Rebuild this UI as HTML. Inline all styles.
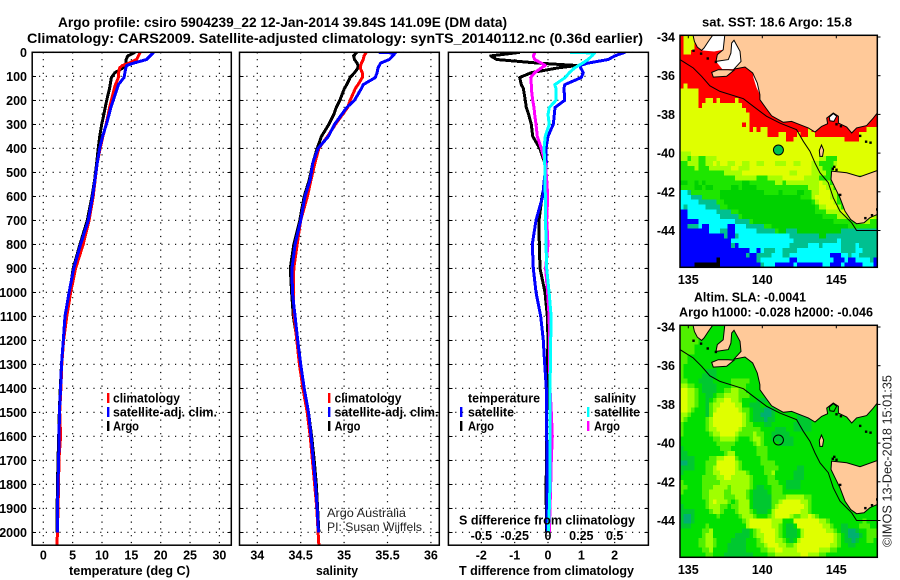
<!DOCTYPE html>
<html><head><meta charset="utf-8"><title>Argo profile</title>
<style>
html,body{margin:0;padding:0;background:#fff}
svg{display:block}
text{font-family:"Liberation Sans",sans-serif;fill:#000}
.b{font-weight:bold;font-size:12.5px}
.t{font-weight:bold;font-size:14px}
.n{font-weight:normal;font-size:12px;fill:#222}
</style></head>
<body>
<svg id="fig" xmlns="http://www.w3.org/2000/svg" width="900" height="580" viewBox="0 0 900 580">
<defs>
<clipPath id="cp1"><rect x="32" y="52" width="199.5" height="493.5"/></clipPath>
<clipPath id="cp2"><rect x="239.5" y="52" width="199.5" height="493.5"/></clipPath>
<clipPath id="cp3"><rect x="448.5" y="52" width="200" height="493.5"/></clipPath>
<clipPath id="cm1"><rect x="680" y="35.3" width="197.3" height="232"/></clipPath>
<clipPath id="cm2"><rect x="680" y="325.3" width="197.3" height="232"/></clipPath>
</defs>
<text class="t" x="58" y="27" textLength="449" lengthAdjust="spacingAndGlyphs">Argo profile: csiro 5904239_22 12-Jan-2014 39.84S 141.09E (DM data)</text>
<text class="t" x="27" y="43" textLength="616" lengthAdjust="spacingAndGlyphs">Climatology: CARS2009. Satellite-adjusted climatology: synTS_20140112.nc (0.36d earlier)</text>
<g id="charts"></g>
<g id="maps"></g>

<text class="b" x="69" y="575" textLength="121" lengthAdjust="spacingAndGlyphs">temperature (deg C)</text>
<text class="b" x="316" y="575" textLength="42" lengthAdjust="spacingAndGlyphs">salinity</text>
<text class="b" x="459" y="575" textLength="175" lengthAdjust="spacingAndGlyphs">T difference from climatology</text>
<text class="b" x="459" y="524.5" textLength="176" lengthAdjust="spacingAndGlyphs">S difference from climatology</text>

<g>
<rect x="107" y="393" width="2.4" height="10" fill="#f00"/>
<text class="b" x="113" y="402.5" textLength="67" lengthAdjust="spacingAndGlyphs">climatology</text>
<rect x="107" y="407" width="2.4" height="10" fill="#00f"/>
<text class="b" x="113" y="416.5" textLength="104" lengthAdjust="spacingAndGlyphs">satellite-adj. clim.</text>
<rect x="107" y="421" width="2.4" height="10" fill="#000"/>
<text class="b" x="113" y="430.5" textLength="26" lengthAdjust="spacingAndGlyphs">Argo</text>
</g>
<g>
<rect x="328" y="393" width="2.4" height="10" fill="#f00"/>
<text class="b" x="334.5" y="402.5" textLength="67" lengthAdjust="spacingAndGlyphs">climatology</text>
<rect x="328" y="407" width="2.4" height="10" fill="#00f"/>
<text class="b" x="334.5" y="416.5" textLength="104" lengthAdjust="spacingAndGlyphs">satellite-adj. clim.</text>
<rect x="328" y="421" width="2.4" height="10" fill="#000"/>
<text class="b" x="334.5" y="430.5" textLength="26" lengthAdjust="spacingAndGlyphs">Argo</text>
<text class="n" x="327" y="517" textLength="79" lengthAdjust="spacingAndGlyphs">Argo Australia</text>
<text class="n" x="327" y="531" textLength="95" lengthAdjust="spacingAndGlyphs">PI: Susan Wijffels</text>
</g>
<g>
<text class="b" x="468" y="402.5" textLength="72" lengthAdjust="spacingAndGlyphs">temperature</text>
<rect x="460" y="407" width="2.4" height="10" fill="#00f"/>
<text class="b" x="468" y="416.5" textLength="46" lengthAdjust="spacingAndGlyphs">satellite</text>
<rect x="460" y="421" width="2.4" height="10" fill="#000"/>
<text class="b" x="468" y="430.5" textLength="26" lengthAdjust="spacingAndGlyphs">Argo</text>
<text class="b" x="594" y="402.5" textLength="42" lengthAdjust="spacingAndGlyphs">salinity</text>
<rect x="587" y="407" width="2.4" height="10" fill="#0ff"/>
<text class="b" x="594" y="416.5" textLength="46" lengthAdjust="spacingAndGlyphs">satellite</text>
<rect x="587" y="421" width="2.4" height="10" fill="#f0f"/>
<text class="b" x="594" y="430.5" textLength="26" lengthAdjust="spacingAndGlyphs">Argo</text>
</g>

<text class="b" x="702" y="26.5" textLength="150" lengthAdjust="spacingAndGlyphs">sat. SST: 18.6 Argo: 15.8</text>
<text class="b" x="694" y="301.5" textLength="112" lengthAdjust="spacingAndGlyphs">Altim. SLA: -0.0041</text>
<text class="b" x="679" y="316.5" textLength="194" lengthAdjust="spacingAndGlyphs">Argo h1000: -0.028 h2000: -0.046</text>
<text class="n" style="font-size:13px" transform="translate(891.5,547) rotate(-90)" textLength="172" lengthAdjust="spacingAndGlyphs">©IMOS 13-Dec-2018 15:01:35</text>
</svg>
<script>
// ---- profile data ----
const depthLevels=[0,3,15,30,45,55,65,85,105,135,150,200,230,260,300,350,400,460,530,600,700,800,900,1000,1100,1200,1300,1400,1500,1600,1700,1800,1900,2000,2055];
const tempArgo=[15.6,15.4,14.4,14.1,14.1,13.9,13.6,12.2,11.6,11.4,11.3,10.8,10.55,10.3,9.95,9.6,9.35,9.1,8.75,8.3,7.5,6.25,5.1,4.5,3.8,3.4,3.1,2.9,2.72,2.62,2.5,2.42,2.35,2.33,null];
const tempClim=[16.5,16.45,16.2,15.9,14.6,13.5,13.0,12.85,12.8,12.3,12.1,11.6,11.3,11.05,10.7,10.15,9.7,9.2,8.85,8.5,7.8,6.8,5.5,4.66,4.0,3.45,3.15,3.0,2.8,2.95,2.65,2.6,2.5,2.4,2.33];
const tempSat=[18.75,18.7,18.2,17.6,15.4,14.2,14.05,13.9,13.75,12.8,12.6,11.9,11.5,11.2,10.75,10.1,9.6,9.2,8.8,8.4,7.67,6.36,5.2,4.4,3.7,3.4,3.1,2.95,2.75,2.7,2.6,2.5,2.42,2.4,null];
const salArgo=[35.146,35.14,35.11,35.12,35.15,35.16,35.16,35.12,35.07,35.03,35.005,34.95,34.91,34.88,34.825,34.74,34.69,34.64,34.6,34.54,34.49,34.42,34.38,34.395,34.415,34.46,34.5,34.535,34.59,34.625,34.655,34.68,34.695,34.71,null];
const salClim=[35.25,35.25,35.23,35.22,35.2,35.19,35.185,35.21,35.21,35.16,35.13,35.07,35.04,34.98,34.9,34.81,34.71,34.665,34.62,34.577,34.5,34.46,34.42,34.415,34.425,34.455,34.485,34.525,34.575,34.61,34.635,34.66,34.685,34.7,34.71];
const salSat=[35.4,35.59,35.56,35.52,35.42,35.405,35.39,35.38,35.36,35.22,35.2,35.12,35.03,34.97,34.89,34.82,34.7,34.64,34.61,34.55,34.5,34.435,34.4,34.404,34.435,34.465,34.5,34.54,34.59,34.62,34.645,34.67,34.69,34.705,null];
const diffTArgo=[-0.84,-1.0,-1.72,-1.54,-0.3,0.86,0.3,-0.5,-0.85,-0.8,-0.74,-0.68,-0.65,-0.58,-0.5,-0.46,-0.25,-0.1,-0.07,-0.18,-0.27,-0.26,-0.24,-0.09,-0.02,0,-0.02,-0.02,-0.04,-0.04,-0.04,-0.06,-0.05,-0.04,null];
const diffTSat=[2.31,2.25,2.0,1.81,1.2,0.96,0.98,1.06,1.0,0.5,0.48,0.5,0.21,0.19,0.16,0,-0.06,-0.05,-0.11,-0.16,-0.36,-0.47,-0.44,-0.36,-0.22,-0.14,-0.1,-0.05,-0.04,-0.04,-0.03,-0.03,-0.03,-0.02,null];
const diffSArgo=[-0.098,-0.1,-0.11,-0.1,-0.05,-0.02,-0.05,-0.1,-0.13,-0.125,-0.125,-0.115,-0.105,-0.1,-0.09,-0.08,-0.05,-0.02,-0.01,-0.002,-0.01,0,-0.018,-0.003,0.008,0.012,0.012,0.015,0.025,0.032,0.025,0.02,0.015,0.01,null];
const diffSSat=[0.165,0.35,0.33,0.3,0.26,0.23,0.2,0.16,0.13,0.05,0.06,0.06,0.01,0,0.01,-0.02,-0.03,-0.025,-0.022,-0.02,-0.018,-0.015,-0.01,0.008,0.023,0.02,0.018,0.015,0.015,0.015,0.015,0.015,0.01,0.003,null];
// ---- tick labels ----
const depthTicks=[0,100,200,300,400,500,600,700,800,900,1000,1100,1200,1300,1400,1500,1600,1700,1800,1900,2000];
const tempTicks=[0,5,10,15,20,25,30];
const salTicks=[34,34.5,35,35.5,36];
const salTickLabels=["34","34.5","35","35.5","36"];
const tDiffTicks=[-2,-1,0,1,2];
const sDiffTicks=[-0.5,-0.25,0,0.25,0.5];
const sDiffLabels=["-0.5","-0.25","0","0.25","0.5"];
const lonTicks=[135,140,145];
const latTicks=[-34,-36,-38,-40,-42,-44];
// ---- SST map cells (R red, Y yellow, L lime, G green, D deep green, T teal, C cyan, B blue, K black) ----
const sstRows=[
"RYYYRRRRRRRRRRRRRRRRRRRRRRRRRRRRRRRRRRRRRRRRRRRRRRRRRR",
"RYYYRRRRRRRRRRRRRRRRRRRRRRRRRRRRRRRRRRRRRRRRRRRRRRRRRR",
"RYYYRRRRRRRRRRRRRRRRRRRRRRRRRRRRRRRRRRRRRRRRRRRRRRRRRR",
"RYYRRRRRRRRRRRRRRRRRRRRRRRRRRRRRRRRRRRRRRRRRRRRRRRRRRR",
"RRRRRRRRRRRRRRRRRRRRRRRRRRRRRRRRRRRRRRRRRRRRRRRRRRRRRR",
"RRRRRRRRRRRRRRRRRRRRRRRRRRRRRRRRRRRRRRRRRRRRRRRRRRRRRR",
"RRRRRRRRRRRRRRRRRRRRRRRRRRRRRRRRRRRRRRRRRRRRRRRRRRRRRR",
"RRRRRRRRRRRRRRRRRRRRRRRRRRRRRRRRRRRRRRRRRRRRRRRRRRRRRR",
"RRRRRRRRRRRRRRRRRRRRRRRRRRRRRRRRRRRRRRRRRRRRRRRRRRRRRR",
"RRRRRRRRRRRRRRRRRRRRRRRRRRRRRRRRRRRRRRRRRRRRRRRRRRRRRR",
"RYRRRRRRRRRRRRRRRRRRRRRRRRRRRRRRRRRRRRRRRRRRRRRRRRRRRR",
"YYYYYRRRRRRRRRRRRRRRRRRRRRRRRRRRRRRRRRRRRRRRRRRRRRRRRR",
"YYYYYRRRRRRRRRRRRRRRRRRRRRRRRRRRRRRRRRRRRRRRRRRRRRRRRR",
"YYYYYRRYYRYRRRRYRRRRRRRRRRRRRRRRRRRRRRRRRRRRRRRRRRRRRR",
"YYYYYRYYYYYYYYYYYRRRRRRRRRRRRRRRRRRRRRRRRRRRRRRRRRRRRR",
"YYYYYYYYYYYYYYYYYYRRRRRRRRRRRRRRRRRRRRRRRRRRRRRRRRRRRR",
"YYYYYYYYYYYYYYYYYYYRRRRRRRRRRRRRRRRRRRRRRRRRRRRRRRRRRR",
"YYYYYYYYYYYYYYYYYYYRRRRRRRRRRRRRRRRRRRRRRRRRRRRRRRRRRR",
"YYYYYYYYYYYYYYYYYRYRRRRRRRRRRRRRRRRRRRRRRRRRRRRRRRRRRR",
"YYYYYYYYYYYYYYYYYYYRYRYYRRRRRRRRRRRYRRRRRRRRRRRRRRRYYY",
"YYYYYYYYYYYYYYYYYYYYYYYYRRRYYRRRYRRYYRRRRRRRRRRRRYYYYY",
"YYYYYYYYYYYYYYYYYYYYYYYYYYYYYRRYYYYYYYYYYYYYYRRRRYYYYY",
"YYYYYYYYYYYYYYYYYYYYYYYYYYYYYYYYYYYYYYYYYYYYYYYYYYYYYY",
"YYYYYYYYYYYYYYYYYYYYYYYYYYYYYYYYYYYYYYYYYYYYYYYYYYYYYY",
"LLLYYYYYYYYYYYYYYYYYYYYYYYYYYYYYYYYYYYYYYYYYYYYYYYYYYY",
"LLGLLGGLLLYYYYYYYYYYYYYYYYYYYYYYYYYYYYLLGGGYYYYYYYYYYY",
"GGLLLGGLLYLYYLLYYLLYYLLYYYLLLYYLLYYYLLGGGGLYYYYYYYYYYY",
"GGGGLGGGLLLLLLYYLLLYYYYYYYYYYYYYYYYYLLLGGGYYYYYYYYYYYY",
"GGGGGGGGGGGGLLLLLYYYYYYYYYYYYYLLYYYYLLLLGGYYYYYYYYYYYY",
"GGGGGGGGGGGGGGGLLLLLLGGGLLLLYYYYYYLLLLGGGGGGGGGGGGGGGG",
"DDGGDGDGGGGGGGGGGDDGGGGGGGLLGLLLLLLLLLYLLGGGGGGGGGGGGG",
"GGGGDDGDDGGGGGDDGDDDDGGGGGGGGGGGGGGLLLYYLLGGGGGGGGGGGG",
"CCTGGGGGGGGDDDDDDDDDDDDGGGGDGGGGDDGGLLYYYLLGGGGGGGGGGG",
"CCCTTTGGGGGDDDDDDDDDDDDDDDDDDDDDDGGGLYYYYLLGGGGGGGGGGG",
"CCCCCTTTTTGGDDDDDDDDDDDDDDDDDDDDDDDDGLYYYYLGGGGGGGGGGG",
"CTCCCCCTTTTGGDDDDDDDDDDDDDDDDDDDDDDDDGLLYYYLGGGGGGGGGG",
"BBCCCCCCCCTTTTGGDDDDDDDDDDDDDDDDDDDDDGGGLLLLYYGGGGGGGG",
"BBCCCCCCCCCTTTTTGDDDDDDDDDDDDDDDDDDDDDDGGGGLLLLLLYYYYL",
"BBBBBCCCCCCCCCCTTTTGDDDDDDDDDDDDDDDDDDDDDDGGGGGGLLLLGG",
"BBTTTCBBCCCCCBBCCCTTTTTGGDDDDDDDDDDDDDDDDDDDDDGGGGGGGG",
"BBBBBBBBCCCTTBBCCCCCCTTTTTGDDTTTDDDDDDDDDDDDTTTTTTTTTT",
"BBBBBBBBBBBBTBBTCCCCCCCCCCCCCCTTTTTTTTDDTTTTTTTTTTTTTT",
"BBBBBBBBBBBBBBCCCCCCCCCCCCCCCCCTTTTTTTTTTTTCTTTTTTTTTT",
"BBBBBBBBBBBBBBTBCCCCCCCCCCCCCCTTTTTCCCTCCCCCTTTTCTTTTT",
"BBBBBBBBBBBBBBBBBBBCCBCTTTCCTTTTCCCCCCCCCCCCTTTTCCTTTT",
"BBBBBBBBBBBBBBBBBBTBBTTTTCCCTTCCCCCCCCCCCBBBCCTCCTTTTT",
"BBBBBBBBBBKBBBBBBBBBBTCCCCCCCCBBCCCCCCCCCCBBBCBBCCCCTB",
"BBBBKKKKKKKBBBBBBBBBBBTCCCBBBBBCBBBBBBBCCBBBCBBBBBCCCB"];
const sstColors={R:"#ff0000",Y:"#dfff00",L:"#a6ff00",G:"#1ee600",D:"#00d200",T:"#00c090",C:"#00ffff",B:"#0000ff",K:"#000000"};
// ---- sea-level map cells (0 teal .. 5 yellow) ----
const slaRows=[
"333332222222222222222222222222222222222222222222222222",
"333332222222222222222222222222222222222222222222222222",
"333332222222222222222222222222222222222222222222222222",
"333332222222222222222222222222222222222222222222222222",
"333322222222222222222222222222222222222222222222222222",
"333322222222222222222222222222222222222222222222222222",
"332222222222222222222222222222222222222222222222222222",
"332222222222222222222222222222222222222222222222222222",
"322222222222222222222222222222222222222222222222222222",
"322222211122222222222222222222222222222222222222222222",
"322222111122222222222222222222222222222222222222222222",
"332221111222223333322222222222222222222222222222222222",
"443322111122223333222222222222222222222222222222222222",
"554432111122334433222222222222222222222222222222222222",
"554432211233444433322222222222222222222222222222222222",
"554432212344554432222111222222222222222222222222222222",
"554432213445555442211122222222222222222222222222222222",
"554322213455555543321110012222222222222222222222222222",
"443222213555555554321100012222221112222222222222222222",
"432222234555555554321110112222221111222222222222222222",
"322222234555555554332221122222211111222222222222222222",
"322222234455555543333322221112211111222222222222222222",
"322222223445555433334332211111222222222222222222222222",
"222222222334444322234432211111122222222222222222222222",
"222222222233333222223432222111122222222222222222222222",
"122222222223332222222333222222222222222222222222222222",
"112222222222344222222333222222222222222222222222222222",
"111122223344555322222233222222222222222222222222222222",
"001122233355555432222233332222222222222222222222222222",
"111122233455555432222223333222221122222222222222222222",
"122222233445555444322223342222211122222222222222222222",
"222222333344554444432222332222211122222222222222222222",
"322222333334444444432222333221111222222222222222222222",
"332222333444434444432112233321111222222222222222222222",
"322222334444334444321111233322222222222222222222222222",
"222222334444333444321111133334444433222222222222222222",
"222222234544432344421111133455555443222222222222222222",
"122222234443323344421111134555555543222222222222222222",
"111122223443222344432111245555555443222222222222222222",
"100122222232222234443222345555433445432222222222222222",
"100122222222222223455555544422255555554432222222223222",
"111222232222222222455555544321125555555443221122233322",
"222222334222222221123455554321112455555544321100122333",
"222222344222222111123445554321112455555555432100012333",
"222223344322221111222345554432124555555555432110122332",
"222223344322211111222334555443345555555554432211222222",
"222222334222211111222233445544445555554443322222222222",
"222222233222111111112222334444444554443322222222222222"];
const slaColors=["#00b070","#00c830","#00e000","#50f000","#a0ff00","#dfff00"];
// ---- coastline and bathymetry (lon,lat pairs) ----
const mainland=[[137.48,-33.8],[137.36,-34.66],[136.96,-34.91],[136.87,-35.26],[137.7,-35.17],[137.88,-34.83],[137.93,-34.31],[138.09,-34.17],[138.49,-34.74],[138.56,-35.26],[138.09,-35.66],[138.83,-35.55],[139.35,-35.86],[139.66,-36.38],[139.84,-36.98],[139.84,-37.24],[140.29,-37.72],[140.63,-38.07],[141.08,-38.27],[141.42,-38.41],[141.98,-38.36],[142.55,-38.53],[143.11,-38.7],[143.56,-38.91],[144.01,-38.62],[144.41,-38.48],[144.35,-38.19],[144.8,-37.93],[145.14,-38.1],[145.14,-38.45],[145.7,-38.65],[146.04,-38.96],[146.37,-38.7],[147.05,-38.58],[147.5,-38.19],[147.77,-37.93],[148,-37.8],[148,-33.8]];
const eyre=[[135.29,-33.8],[135.41,-34.23],[135.61,-34.52],[135.9,-34.69],[136.06,-34.57],[136.35,-34.23],[136.75,-33.8]];
const kangaroo=[[136.58,-35.83],[137.03,-35.69],[137.7,-35.69],[138.09,-35.72],[137.59,-36.03],[136.69,-36.07]];
const tasmania=[[144.68,-40.93],[145.7,-41.02],[146.6,-41.22],[147.77,-40.9],[148,-40.9],[148,-43.1],[147.77,-43.17],[147.27,-43.34],[146.87,-43.6],[146.37,-43.65],[145.97,-43.43],[145.59,-43],[145.25,-42.31],[144.91,-41.79],[144.64,-41.36]];
const kingIsland=[[143.85,-39.86],[144,-39.58],[144.14,-39.84],[144.07,-40.17],[143.89,-40.17]];
const gulfSpencer=[[135.9,-34.69],[136.75,-33.8],[137.5,-33.8],[137.36,-34.66],[136.75,-34.75]];
const gulfStVincent=[[136.87,-35.26],[137.7,-35.17],[137.88,-34.83],[137.93,-34.31],[138.09,-34.17],[138.49,-34.74],[138.56,-35.26],[138.09,-35.66],[137.3,-35.66]];
const coorong=[[139.35,-35.86],[139.66,-36.38],[139.84,-36.98],[139.6,-36.6],[139.4,-36.1]];
const portPhillip=[[144.53,-38.14],[144.8,-37.96],[145.02,-38.1],[144.84,-38.36],[144.57,-38.33]];
const isobath=[[134.44,-35.17],[135.34,-35.6],[135.9,-36.03],[136.46,-36.52],[137.14,-36.81],[138.72,-37.19],[139.39,-37.58],[140.29,-38.1],[141.19,-38.45],[142.32,-38.79],[142.77,-39.39],[143.22,-39.91],[143.56,-40.51],[143.9,-41.02],[144.46,-41.53],[144.8,-42.31],[145.25,-43],[146.04,-43.6],[146.37,-44],[147.77,-44]];
const smallIslands=[[135.34,-34.7],[135.85,-34.85],[136.3,-35.1],[136.85,-35.28],[145,-38.5],[145.3,-38.6],[146.6,-39.1],[147,-39.4],[147.3,-39.45],[144.85,-40.7],[145,-40.85],[144.75,-40.8],[147.75,-42.9],[147.4,-43.2],[146.95,-43.35],[145.25,-42.15]];
const argoLon=141.09;
const argoLat=-39.84;

const NS="http://www.w3.org/2000/svg";
function el(parent,tag,attrs){const e=document.createElementNS(NS,tag);for(const k in attrs)e.setAttribute(k,attrs[k]);parent.appendChild(e);return e;}
const yDepth=d=>52.3+0.24*d;
const xTemp=t=>43.3+5.87*t;
const xSal=s=>257.3+86.8*(s-34);
const xTDiff=t=>548+33.33*t;
const xSDiff=s=>548+133.3*s;
const charts=document.getElementById("charts");

function drawPanel(name,x0,x1,clip,gridVals,gridX){
  const g=el(charts,"g",{});
  
  
  gridVals.forEach(v=>{
    const l=el(g,"line",{x1:gridX(v),x2:gridX(v),y1:52.3,y2:545,stroke:"#000","stroke-width":1.2,"stroke-dasharray":"1.2 5.6"});
    
    
  });
  depthTicks.forEach(d=>{
    const l=el(g,"line",{x1:x0,x2:x1,y1:yDepth(d),y2:yDepth(d),stroke:"#000","stroke-width":1.2,"stroke-dasharray":"1.2 5.6"});
    
    
    const a=el(g,"line",{x1:x0,x2:x0+4,y1:yDepth(d),y2:yDepth(d),stroke:"#000","stroke-width":1,"shape-rendering":"crispEdges"});
    
    
    const b=el(g,"line",{x1:x1-4,x2:x1,y1:yDepth(d),y2:yDepth(d),stroke:"#000","stroke-width":1,"shape-rendering":"crispEdges"});
    
    
  });
  const lines=el(g,"g",{"clip-path":"url(#"+clip+")"});
  
  
  const fr=el(g,"rect",{x:x0,y:52.3,width:x1-x0,height:492.9,fill:"none",stroke:"#000","stroke-width":1.5});
  
  
  return lines;
}
function series(g,name,vals,xf,color){
  const pts=[];
  vals.forEach((v,i)=>{if(v!==null)pts.push(xf(v).toFixed(1)+","+yDepth(depthLevels[i]).toFixed(1));});
  const p=el(g,"polyline",{points:pts.join(" "),fill:"none",stroke:color,"stroke-width":3,"stroke-linejoin":"round","shape-rendering":"crispEdges"});
  
  
}
function label(parent,name,x,y,str,anchor){
  const t=el(parent,"text",{x:x,y:y,"text-anchor":anchor,"class":"b"});
  t.textContent=str;
  
  
  return t;
}
const g1=drawPanel("temperature-panel",32.2,231.3,"cp1",tempTicks,xTemp);
series(g1,"temperature-argo-line",tempArgo,xTemp,"#000");
series(g1,"temperature-climatology-line",tempClim,xTemp,"#f00");
series(g1,"temperature-satellite-line",tempSat,xTemp,"#00f");
const g2=drawPanel("salinity-panel",239.5,439.3,"cp2",salTicks,xSal);
series(g2,"salinity-argo-line",salArgo,xSal,"#000");
series(g2,"salinity-climatology-line",salClim,xSal,"#f00");
series(g2,"salinity-satellite-line",salSat,xSal,"#00f");
const g3=drawPanel("difference-panel",448.4,648.4,"cp3",tDiffTicks,xTDiff);
series(g3,"t-diff-argo-line",diffTArgo,xTDiff,"#000");
series(g3,"t-diff-satellite-line",diffTSat,xTDiff,"#00f");
series(g3,"s-diff-argo-line",diffSArgo,xSDiff,"#f0f");
series(g3,"s-diff-satellite-line",diffSSat,xSDiff,"#0ff");

depthTicks.forEach(d=>{label(charts,"depth-tick-label",27,yDepth(d)+4.5,String(d),"end");});
tempTicks.forEach(v=>{label(charts,"temperature-tick-label",xTemp(v),559.5,String(v),"middle");});
salTicks.forEach((v,i)=>{label(charts,"salinity-tick-label",xSal(v),559.5,salTickLabels[i],"middle");});
tDiffTicks.forEach(v=>{label(charts,"t-difference-tick-label",xTDiff(v),559.5,String(v),"middle");});
sDiffTicks.forEach((v,i)=>{label(charts,"s-difference-tick-label",xSDiff(v),540,sDiffLabels[i],"middle");});

const maps=document.getElementById("maps");
function drawMap(name,top,clip,rows,colorOf,noData,bayFill,dotFill){
  const xLon=lon=>688.3+14.8*(lon-135);
  const yLat=lat=>top+1.7+19.35*(-34-lat);
  const g=el(maps,"g",{"clip-path":"url(#"+clip+")"});
  
  
  const cw=197.3/54,ch=232/48;
  rows.forEach((row,r)=>{
    for(let c=0;c<54;c++){
      const ch0=row[c]||row[row.length-1];
      const cell=el(g,"rect",{x:(680+c*cw).toFixed(2),y:(top+r*ch).toFixed(2),width:(cw+0.4).toFixed(2),height:(ch+0.4).toFixed(2),fill:colorOf(ch0),"shape-rendering":"crispEdges"});
      
      
    }
  });
  const poly=(pts,fill,stroke,nm)=>{
    const p=el(g,"polygon",{points:pts.map(q=>xLon(q[0]).toFixed(1)+","+yLat(q[1]).toFixed(1)).join(" "),fill:fill,stroke:stroke,"stroke-width":1});
    
    
  };
  if(noData){
    poly(gulfSpencer,noData,"none","gulf-no-data");
    poly(gulfStVincent,noData,"none","gulf-no-data");
    poly(coorong,noData,"none","coast-no-data");
  }
  poly(eyre,"#ffc999","#000","land-eyre");
  poly(mainland,"#ffc999","#000","land-mainland");
  poly(kangaroo,"#ffc999","#000","land-kangaroo-island");
  poly(tasmania,"#ffc999","#000","land-tasmania");
  poly(kingIsland,"#ffc999","#000","land-king-island");
  poly(portPhillip,bayFill,"#000","port-phillip-bay");
  smallIslands.forEach(q=>{
    const d=el(g,"rect",{x:xLon(q[0])-1,y:yLat(q[1])-1,width:2.4,height:2.4,fill:dotFill});
    
    
  });
  const iso=el(g,"polyline",{points:isobath.map(q=>xLon(q[0]).toFixed(1)+","+yLat(q[1]).toFixed(1)).join(" "),fill:"none",stroke:"#000","stroke-width":1});
  
  
  const fr=el(maps,"rect",{x:680,y:top,width:197.3,height:232,fill:"none",stroke:"#000","stroke-width":1.5});
  
  
  lonTicks.forEach(v=>{
    const a=el(maps,"line",{x1:xLon(v),x2:xLon(v),y1:top,y2:top+3,stroke:"#000","stroke-width":1});
    
    
    label(maps,"longitude-label",xLon(v),top+248.5,String(v),"middle");
  });
  latTicks.forEach(v=>{
    const a=el(maps,"line",{x1:877.3,x2:880.5,y1:yLat(v),y2:yLat(v),stroke:"#000","stroke-width":1});
    
    
    label(maps,"latitude-label",675,yLat(v)+4.5,String(v),"end");
  });
  return {xLon:xLon,yLat:yLat};
}
const m1=drawMap("sst-map",35.3,"cm1",sstRows,c=>sstColors[c],"#ffffff","#ffffff","#000");
const m2=drawMap("sea-level-map",325.3,"cm2",slaRows,c=>slaColors[+c],null,"#00e000","#000");
const mk1=el(maps,"circle",{cx:m1.xLon(argoLon),cy:m1.yLat(argoLat),r:5,fill:"#00c050",stroke:"#000","stroke-width":1});


const mk2=el(maps,"circle",{cx:m2.xLon(argoLon),cy:m2.yLat(argoLat),r:5,fill:"none",stroke:"#000","stroke-width":1});


</script>
</body></html>
